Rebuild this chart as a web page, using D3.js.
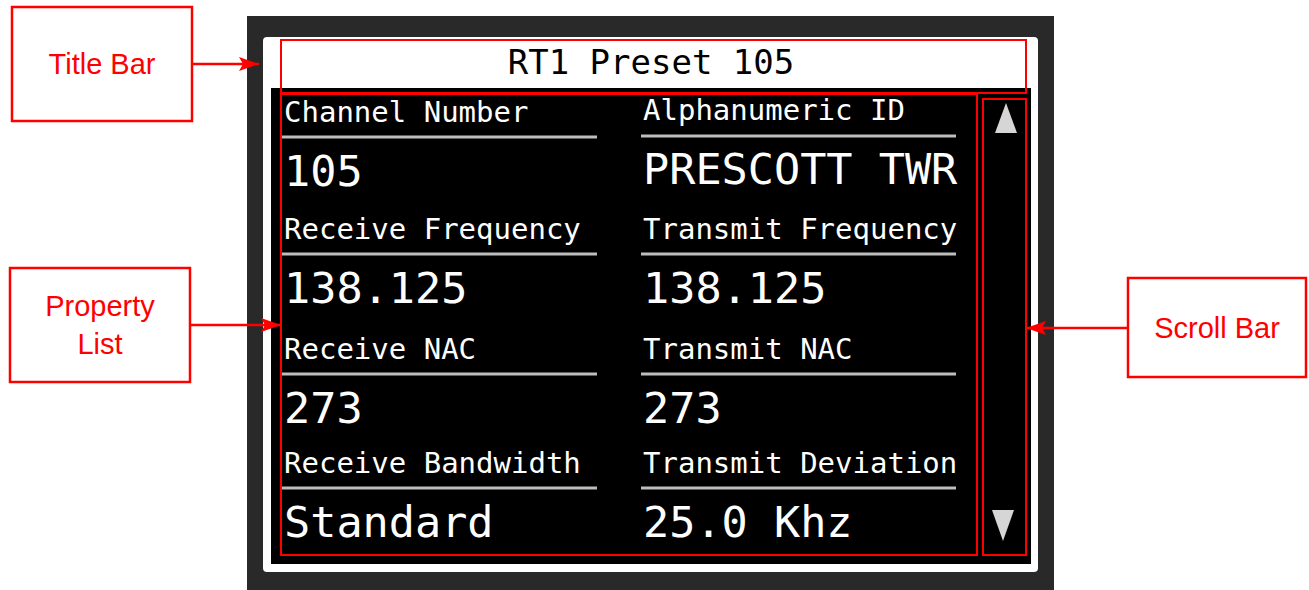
<!DOCTYPE html>
<html>
<head>
<meta charset="utf-8">
<script src="https://cdn.jsdelivr.net/npm/d3@7"></script>
<style>
  html, body { margin: 0; padding: 0; background: #ffffff; }
  svg { display: block; }
</style>
</head>
<body>
<svg id="chart" width="1309" height="590"></svg>
<script>
// ---- Data ----
const title = "RT1 Preset 105";
const leftLabels  = ["Channel Number", "Receive Frequency", "Receive NAC", "Receive Bandwidth"];
const leftValues  = ["105", "138.125", "273", "Standard"];
const rightLabels = ["Alphanumeric ID", "Transmit Frequency", "Transmit NAC", "Transmit Deviation"];
const rightValues = ["PRESCOTT TWR", "138.125", "273", "25.0 Khz"];
const annotations = ["Title Bar", "Property\nList", "Scroll Bar"];

// ---- Setup ----
const svg = d3.select("#chart");
const mono = "'DejaVu Sans Mono', 'Liberation Mono', monospace";
const sans = "'Liberation Sans', Arial, sans-serif";
const RED = "#ff0000";

svg.append("defs").append("marker")
  .attr("id", "arrowBig")
  .attr("viewBox", "0 0 20 14")
  .attr("refX", 20).attr("refY", 7)
  .attr("markerWidth", 20).attr("markerHeight", 14)
  .attr("markerUnits", "userSpaceOnUse")
  .attr("orient", "auto")
  .append("path").attr("d", "M0,0 L20,7 L0,14 L4,7 Z").attr("fill", RED);

// ---- Device frame ----
svg.append("rect").attr("x", 247).attr("y", 16).attr("width", 807).attr("height", 580)
  .attr("fill", "#292929");
svg.append("rect").attr("x", 263).attr("y", 37).attr("width", 775).attr("height", 535)
  .attr("rx", 4).attr("fill", "#ffffff");
svg.append("rect").attr("x", 271).attr("y", 88).attr("width", 760).attr("height", 476)
  .attr("fill", "#000000");

// title text
svg.append("text").attr("x", 651).attr("y", 74)
  .attr("text-anchor", "middle")
  .attr("font-family", mono).attr("font-size", 34)
  .attr("fill", "#000").text(title);

// ---- Property list via scales ----
const rowY = d3.scaleLinear().domain([0, 1, 2, 3]).range([122, 239, 359, 473]);
const colX = d3.scalePoint().domain(["L", "R"]).range([284, 643]);

const cols = [
  { key: "L", labels: leftLabels, values: leftValues },
  { key: "R", labels: rightLabels, values: rightValues }
];

const cells = [];
cols.forEach(c => c.labels.forEach((lab, i) => cells.push({ col: c.key, i, label: lab, value: c.values[i] })));

const g = svg.append("g");
const cell = g.selectAll("g.cell").data(cells).join("g").attr("class", "cell");

const nudge = d => (d.col === "R" && d.i === 0 ? 2 : 0);

cell.append("text")
  .attr("x", d => colX(d.col))
  .attr("y", d => rowY(d.i) - nudge(d))
  .attr("font-family", mono).attr("font-size", 29)
  .attr("fill", "#ffffff")
  .text(d => d.label);

cell.append("line")
  .attr("x1", d => colX(d.col) - 2)
  .attr("x2", d => colX(d.col) + 313)
  .attr("y1", d => rowY(d.i) + 15 - nudge(d) / 2)
  .attr("y2", d => rowY(d.i) + 15 - nudge(d) / 2)
  .attr("stroke", "#bdbdbd").attr("stroke-width", 3);

cell.append("text")
  .attr("x", d => colX(d.col))
  .attr("y", d => rowY(d.i) + 64 - nudge(d))
  .attr("font-family", mono).attr("font-size", 43.5)
  .attr("fill", "#ffffff")
  .text(d => d.value);

// ---- Scroll arrows ----
svg.append("path").attr("d", "M1006,103 L1017,133 L995,133 Z").attr("fill", "#d6d6d6");
svg.append("path").attr("d", "M992,510 L1014,510 L1003,541 Z").attr("fill", "#d6d6d6");

// ---- Red highlight rectangles ----
const hl = [
  { x: 281, y: 40, w: 745, h: 53 },
  { x: 281, y: 94, w: 696, h: 461 },
  { x: 983, y: 99, w: 43, h: 456 }
];
svg.selectAll("rect.hl").data(hl).join("rect").attr("class", "hl")
  .attr("x", d => d.x).attr("y", d => d.y).attr("width", d => d.w).attr("height", d => d.h)
  .attr("fill", "none").attr("stroke", RED).attr("stroke-width", 2);

// ---- Annotation boxes ----
const boxes = [
  { x: 12, y: 7, w: 180, h: 114, ty: [74], ax1: 192, ax2: 259, ay: 64 },
  { x: 10, y: 268, w: 180, h: 114, ty: [316, 354], ax1: 190, ax2: 281, ay: 325 },
  { x: 1128, y: 278, w: 178, h: 99, ty: [338], ax1: 1128, ax2: 1026, ay: 328 }
];
boxes.forEach((b, k) => {
  svg.append("rect").attr("x", b.x).attr("y", b.y).attr("width", b.w).attr("height", b.h)
    .attr("fill", "#ffffff").attr("stroke", RED).attr("stroke-width", 2.5);
  const lines = annotations[k].split("\n");
  lines.forEach((t, j) => {
    svg.append("text").attr("x", b.x + b.w / 2).attr("y", b.ty[j])
      .attr("text-anchor", "middle").attr("font-family", sans).attr("font-size", 29)
      .attr("fill", RED).text(t);
  });
  svg.append("line").attr("x1", b.ax1).attr("x2", b.ax2).attr("y1", b.ay).attr("y2", b.ay)
    .attr("stroke", RED).attr("stroke-width", 2.5).attr("marker-end", "url(#arrowBig)");
});
</script>
</body>
</html>
